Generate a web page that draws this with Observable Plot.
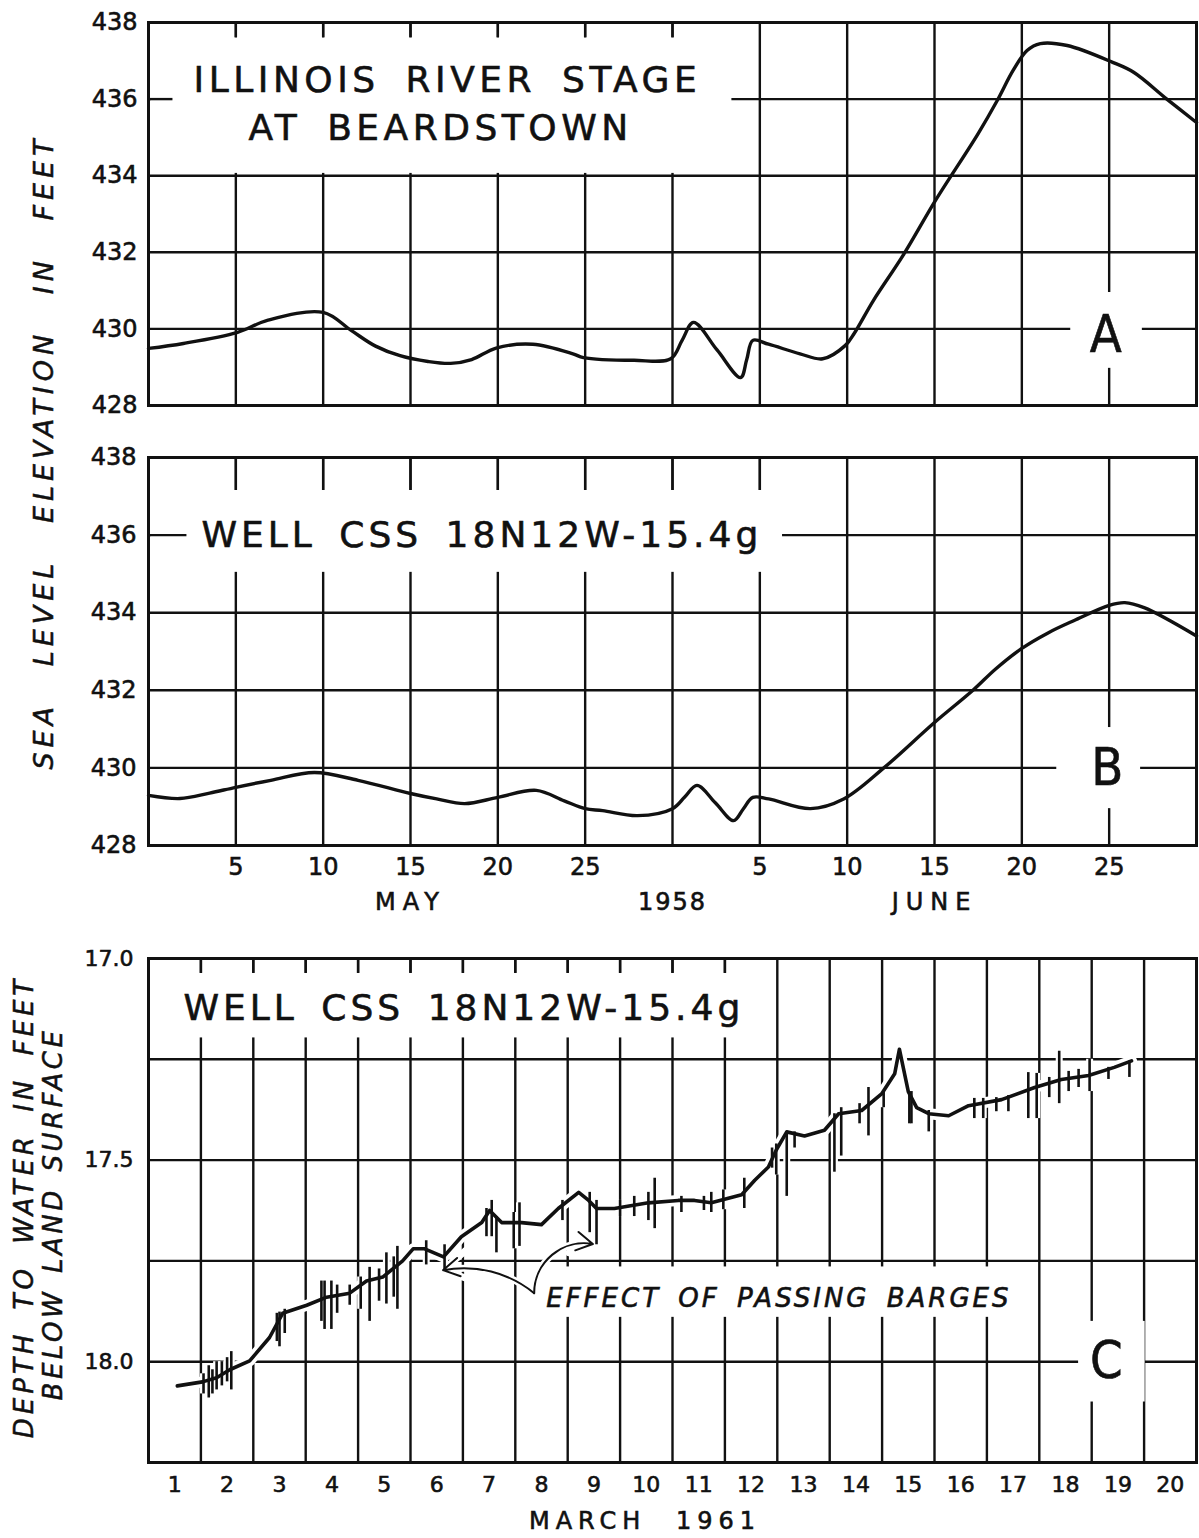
<!DOCTYPE html>
<html><head><meta charset="utf-8">
<script src="https://cdn.jsdelivr.net/npm/d3@7"></script>
<script src="https://cdn.jsdelivr.net/npm/@observablehq/plot@0.6"></script>
<style>
html,body{margin:0;padding:0;background:#fff;}
#page{position:relative;width:1199px;height:1538px;overflow:hidden;background:#fff;font-family:"DejaVu Sans",sans-serif;color:#111;}
.panel{position:absolute;left:0;}
.panel svg text{stroke:#111;stroke-width:0.6px;}
.ytitle{position:absolute;white-space:nowrap;font-style:italic;line-height:1;-webkit-text-stroke:0.5px #111;transform:translate(-50%,-50%) rotate(-90deg);}
</style></head><body><div id="page"></div>
<script>
// ---------- Panel A: Illinois River stage at Beardstown, 1958 (day index: May d = d, June d = 30 + d)
const riverDay   = [0, 2, 5.1, 6.8, 10, 11.6, 13, 14.4, 16, 17.3, 18.5, 19.9, 22, 24.3, 24.9, 27.8, 29.9, 30.55, 31.2, 32.55, 33.9, 34.25, 34.6, 35.5, 37.3, 38.6, 39.9, 40.4, 41.5, 43.2, 45.05, 47.5, 48.6, 49.5, 50.3, 51.06, 52.6, 55.2, 56.4, 58.3, 60];
const riverStage = [429.49, 429.62, 429.91, 430.22, 430.43, 429.96, 429.55, 429.3, 429.15, 429.1, 429.2, 429.5, 429.6, 429.35, 429.25, 429.18, 429.22, 429.7, 430.17, 429.45, 428.73, 429.2, 429.7, 429.6, 429.35, 429.22, 429.57, 429.88, 430.74, 431.92, 433.35, 435.1, 435.97, 436.75, 437.27, 437.45, 437.4, 436.96, 436.7, 436.0, 435.39];

// ---------- Panel B: Well CSS 18N12W-15.4g, 1958
const wellDay   = [0, 1.8, 3.5, 5, 7, 9.5, 12, 15, 16.5, 18.1, 20, 22.2, 23.8, 25, 26, 28, 30, 30.7, 31.4, 32.45, 33.5, 34.05, 34.6, 35.5, 37.9, 39.8, 42.1, 45, 47.2, 48.5, 50, 51.5, 53, 55, 55.9, 57, 60];
const wellLevel = [429.29, 429.21, 429.35, 429.5, 429.68, 429.88, 429.68, 429.34, 429.2, 429.08, 429.24, 429.42, 429.15, 428.95, 428.9, 428.77, 428.95, 429.25, 429.55, 429.1, 428.64, 428.94, 429.24, 429.2, 428.95, 429.2, 430.0, 431.17, 432.0, 432.55, 433.08, 433.48, 433.8, 434.19, 434.26, 434.13, 433.4];

// ---------- Panel C: depth to water, March 1961 (x = day of month + fraction)
const marchDay   = [1.55, 2.03, 2.3, 2.55, 2.93, 3.31, 3.56, 4.02, 4.4, 4.84, 5.16, 5.47, 5.85, 6.05, 6.27, 6.63, 6.97, 7.36, 7.51, 7.74, 8.12, 8.5, 8.82, 9.21, 9.4, 9.55, 9.89, 10.54, 11.11, 11.42, 11.74, 12.32, 12.57, 12.83, 12.98, 13.18, 13.52, 13.9, 14.17, 14.61, 14.99, 15.24, 15.33, 15.5, 15.66, 15.89, 16.27, 16.65, 17.28, 17.91, 18.42, 18.94, 19.43, 19.76];
const marchDepth = [18.06, 18.05, 18.04, 18.02, 17.998, 17.94, 17.88, 17.86, 17.84, 17.83, 17.8, 17.79, 17.75, 17.72, 17.72, 17.74, 17.69, 17.655, 17.625, 17.655, 17.655, 17.66, 17.62, 17.58, 17.6, 17.62, 17.62, 17.606, 17.6, 17.6, 17.606, 17.586, 17.55, 17.517, 17.475, 17.43, 17.44, 17.426, 17.385, 17.377, 17.336, 17.286, 17.225, 17.33, 17.37, 17.385, 17.39, 17.365, 17.35, 17.32, 17.3, 17.29, 17.27, 17.254];
// barge spikes (vertical excursions)
const spikeDay    = [2.05, 2.15, 2.22, 2.3, 2.4, 2.5, 2.58, 3.45, 3.5, 3.6, 4.3, 4.36, 4.49, 4.6, 4.84, 5.05, 5.22, 5.4, 5.54, 5.68, 5.75, 6.3, 6.65, 7.45, 7.55, 7.64, 7.97, 8.08, 8.9, 9.42, 9.55, 10.0, 10.27, 10.54, 10.66, 11.17, 11.6, 11.74, 11.97, 12.37, 12.9, 12.98, 13.18, 13.33, 14.09, 14.22, 14.57, 14.74, 15.03, 15.52, 15.56, 15.89, 16.76, 16.93, 17.18, 17.41, 17.79, 17.95, 18.19, 18.38, 18.56, 18.75, 18.96, 19.32, 19.72];
const spikeTop    = [18.03, 18.01, 18.02, 18.0, 18.0, 17.99, 17.975, 17.88, 17.877, 17.87, 17.8, 17.8, 17.8, 17.81, 17.81, 17.79, 17.766, 17.77, 17.73, 17.74, 17.714, 17.7, 17.71, 17.62, 17.6, 17.64, 17.63, 17.606, 17.6, 17.58, 17.6, 17.6, 17.59, 17.58, 17.545, 17.59, 17.59, 17.58, 17.574, 17.545, 17.47, 17.46, 17.43, 17.43, 17.385, 17.37, 17.36, 17.32, 17.33, 17.33, 17.33, 17.377, 17.347, 17.347, 17.345, 17.34, 17.283, 17.285, 17.295, 17.23, 17.28, 17.275, 17.25, 17.27, 17.254];
const spikeBottom = [18.08, 18.09, 18.08, 18.07, 18.06, 18.05, 18.07, 17.95, 17.963, 17.93, 17.9, 17.92, 17.92, 17.88, 17.86, 17.87, 17.9, 17.85, 17.857, 17.84, 17.87, 17.76, 17.776, 17.69, 17.69, 17.73, 17.72, 17.714, 17.65, 17.68, 17.71, 17.64, 17.64, 17.65, 17.67, 17.63, 17.625, 17.63, 17.623, 17.62, 17.52, 17.537, 17.59, 17.47, 17.53, 17.49, 17.41, 17.44, 17.37, 17.41, 17.41, 17.43, 17.397, 17.397, 17.38, 17.38, 17.397, 17.397, 17.345, 17.36, 17.33, 17.32, 17.33, 17.3, 17.295];

// ---------- ticks and labels
const elevTicks = [428, 430, 432, 434, 436, 438];
const elevGrid = [430, 432, 434, 436];
const abGridDays = [5, 10, 15, 20, 25, 30, 35, 40, 45, 50, 55];
const dayTicks = [5, 10, 15, 20, 25, 35, 40, 45, 50, 55];
const dayTickLabels = ["5", "10", "15", "20", "25", "5", "10", "15", "20", "25"];
const monthLabels = ["MAY", "1958", "JUNE"];
const monthPos = [15, 30, 45];
const depthTicks = [17.0, 17.5, 18.0];
const depthGrid = [17.25, 17.5, 17.75, 18.0];
const marchGrid = [2, 3, 4, 5, 6, 7, 8, 9, 10, 11, 12, 13, 14, 15, 16, 17, 18, 19, 20];
const marchLabels = ["1","2","3","4","5","6","7","8","9","10","11","12","13","14","15","16","17","18","19","20"];

// ---------- helpers
const INK = "#111";
const FONT = "'DejaVu Sans', 'Noto Sans', sans-serif";
const LETTER = "'Liberation Sans Narrow', 'DejaVu Sans Condensed', 'Liberation Sans', sans-serif";
const W = 1199;
const GW = 2.4;
const riverData = riverDay.map((d, i) => ({day: d, v: riverStage[i]}));
const wellData = wellDay.map((d, i) => ({day: d, v: wellLevel[i]}));
const marchData = marchDay.map((d, i) => ({day: d, v: marchDepth[i]}));
const spikeData = spikeDay.map((d, i) => ({day: d, top: spikeTop[i], bottom: spikeBottom[i]}));
const marchTickPos = marchLabels.map(s => +s + 0.5);

function box(x1, x2, y1, y2) {
  return Plot.rect([{x1, x2, y1, y2}], {x1: "x1", x2: "x2", y1: "y1", y2: "y2", fill: "white"});
}
function label(t, x, y, o) {
  return Plot.text([t], {x: () => x, y: () => y, text: d => d, fill: INK, ...o});
}
const spacing = {
  "ILLINOIS RIVER STAGE": [4.5, 10], "AT BEARDSTOWN": [4.5, 10],
  "WELL CSS 18N12W-15.4g": [4, 8], "EFFECT OF PASSING BARGES": [3, 6],
  "MAY": [7, 0], "JUNE": [7, 0], "1958": [2, 0], "MARCH 1961": [6, 16]
};
function place(svg, top) {
  d3.select(svg).selectAll("text").each(function () {
    const s = spacing[this.textContent];
    if (s) d3.select(this).attr("letter-spacing", s[0]).attr("word-spacing", s[1]);
  });
  const div = document.createElement("div");
  div.className = "panel";
  div.style.top = top + "px";
  div.appendChild(svg);
  document.getElementById("page").appendChild(div);
}
const baseStyle = {fontFamily: FONT, color: INK, background: "white"};

// ---------- Panel A
place(Plot.plot({
  width: W, height: 420, marginTop: 22, marginBottom: 15, marginLeft: 148, marginRight: 3,
  style: {...baseStyle, fontSize: "24px"},
  x: {domain: [0, 60], axis: null},
  y: {domain: [428, 438], ticks: elevTicks, tickSize: 0, tickPadding: 11, label: null, tickFormat: d => String(d)},
  marks: [
    Plot.ruleX(abGridDays, {stroke: INK, strokeWidth: GW}),
    Plot.ruleY(elevGrid, {stroke: INK, strokeWidth: GW}),
    box(0.15, 33.4, 434.06, 437.6),
    box(52.8, 56.9, 428.97, 430.95),
    Plot.ruleX(abGridDays.filter(d => d < 33.4), {y1: () => 438, y2: () => 437.6, stroke: INK, strokeWidth: GW}),
    Plot.ruleY([436], {x1: () => 0, x2: () => 1.4, stroke: INK, strokeWidth: GW}),
    Plot.line(riverData, {x: "day", y: "v", curve: "catmull-rom", stroke: INK, strokeWidth: 3.4}),
    Plot.frame({stroke: INK, strokeWidth: 3}),
    label("ILLINOIS RIVER STAGE", 2.58, 436.49, {fontSize: 36, textAnchor: "start"}),
    label("AT BEARDSTOWN", 5.72, 435.23, {fontSize: 36, textAnchor: "start"}),
    label("A", 54.8, 429.83, {fontSize: 52, fontFamily: LETTER})
  ]
}), 0);

// ---------- Panel B
place(Plot.plot({
  width: W, height: 480, marginTop: 17, marginBottom: 75, marginLeft: 148, marginRight: 3,
  style: {...baseStyle, fontSize: "24px"},
  x: {domain: [0, 60], ticks: dayTicks, tickFormat: d => dayTickLabels[dayTicks.indexOf(d)], tickSize: 0, tickPadding: 12, label: null},
  y: {domain: [428, 438], ticks: elevTicks, tickSize: 0, tickPadding: 12, label: null, tickFormat: d => String(d)},
  marks: [
    Plot.ruleX(abGridDays, {stroke: INK, strokeWidth: GW}),
    Plot.ruleY(elevGrid, {stroke: INK, strokeWidth: GW}),
    box(0.15, 36.3, 435.04, 437.15),
    box(52.0, 56.8, 428.95, 431.04),
    Plot.ruleX(abGridDays.filter(d => d < 36.3), {y1: () => 438, y2: () => 437.15, stroke: INK, strokeWidth: GW}),
    Plot.ruleY([436], {x1: () => 0, x2: () => 2.2, stroke: INK, strokeWidth: GW}),
    Plot.line(wellData, {x: "day", y: "v", curve: "catmull-rom", stroke: INK, strokeWidth: 3.4}),
    Plot.frame({stroke: INK, strokeWidth: 3}),
    label("WELL CSS 18N12W-15.4g", 3.03, 436.0, {fontSize: 36, textAnchor: "start"}),
    label("B", 54.9, 429.98, {fontSize: 52, fontFamily: LETTER}),
    Plot.text(monthLabels, {x: (d, i) => monthPos[i], frameAnchor: "bottom", dy: 64, fontSize: 24, fill: INK})
  ]
}), 440);

// ---------- Panel C
place(Plot.plot({
  width: W, height: 608, marginTop: 28, marginBottom: 76, marginLeft: 148, marginRight: 3,
  style: {...baseStyle, fontSize: "22px"},
  x: {domain: [1, 21], ticks: marchTickPos, tickFormat: d => marchLabels[marchTickPos.indexOf(d)], tickSize: 0, tickPadding: 14, label: null},
  y: {domain: [17, 18.25], reverse: true, ticks: depthTicks, tickFormat: d3.format(".1f"), tickSize: 0, tickPadding: 15, label: null},
  marks: [
    Plot.ruleX(marchGrid, {stroke: INK, strokeWidth: GW}),
    Plot.ruleY(depthGrid, {stroke: INK, strokeWidth: GW}),
    box(1.02, 12.5, 17.037, 17.197),
    box(8.55, 17.3, 17.765, 17.89),
    box(18.75, 20.02, 17.9, 18.1),
    Plot.ruleX(marchGrid.filter(d => d < 12.5), {y1: () => 17, y2: () => 17.037, stroke: INK, strokeWidth: GW}),
    Plot.line(marchData, {x: "day", y: "v", stroke: "white", strokeWidth: 11}),
    Plot.ruleX(spikeData, {x: "day", y1: "top", y2: "bottom", stroke: "white", strokeWidth: 7}),
    Plot.arrow([{x1: 8.36, y1: 17.83, x2: 6.62, y2: 17.773}], {x1: "x1", y1: "y1", x2: "x2", y2: "y2", bend: -25, headLength: 14, stroke: "white", strokeWidth: 7}),
    Plot.arrow([{x1: 8.36, y1: 17.83, x2: 9.48, y2: 17.708}], {x1: "x1", y1: "y1", x2: "x2", y2: "y2", bend: 50, headLength: 14, stroke: "white", strokeWidth: 7}),
    Plot.line(marchData, {x: "day", y: "v", stroke: INK, strokeWidth: 3.6}),
    Plot.ruleX(spikeData, {x: "day", y1: "top", y2: "bottom", stroke: INK, strokeWidth: 2.6}),
    Plot.arrow([{x1: 8.36, y1: 17.83, x2: 6.62, y2: 17.773}], {x1: "x1", y1: "y1", x2: "x2", y2: "y2", bend: -25, headLength: 14, stroke: INK, strokeWidth: 2}),
    Plot.arrow([{x1: 8.36, y1: 17.83, x2: 9.48, y2: 17.708}], {x1: "x1", y1: "y1", x2: "x2", y2: "y2", bend: 50, headLength: 14, stroke: INK, strokeWidth: 2}),
    Plot.frame({stroke: INK, strokeWidth: 3}),
    label("WELL CSS 18N12W-15.4g", 1.667, 17.125, {fontSize: 36, textAnchor: "start"}),
    label("EFFECT OF PASSING BARGES", 8.59, 17.843, {fontSize: 26, fontStyle: "italic", textAnchor: "start"}),
    label("C", 19.28, 18.0, {fontSize: 52, fontFamily: LETTER}),
    Plot.text(["MARCH 1961"], {x: () => 8.26, frameAnchor: "bottom", dy: 66, textAnchor: "start", fontSize: 24, fill: INK})
  ]
}), 930);

// ---------- rotated axis titles
function ytitle(text, cx, cy, size, ls, ws) {
  const el = document.createElement("div");
  el.className = "ytitle";
  el.textContent = text;
  el.style.left = cx + "px";
  el.style.top = cy + "px";
  el.style.fontSize = size + "px";
  el.style.letterSpacing = ls + "px";
  el.style.wordSpacing = ws + "px";
  document.getElementById("page").appendChild(el);
}
ytitle("SEA LEVEL ELEVATION IN FEET", 43, 452, 27, 5, 22);
ytitle("DEPTH TO WATER IN FEET", 24, 1207, 26, 4, 9);
ytitle("BELOW LAND SURFACE", 53, 1214, 26, 3.5, 4);
</script></body></html>
